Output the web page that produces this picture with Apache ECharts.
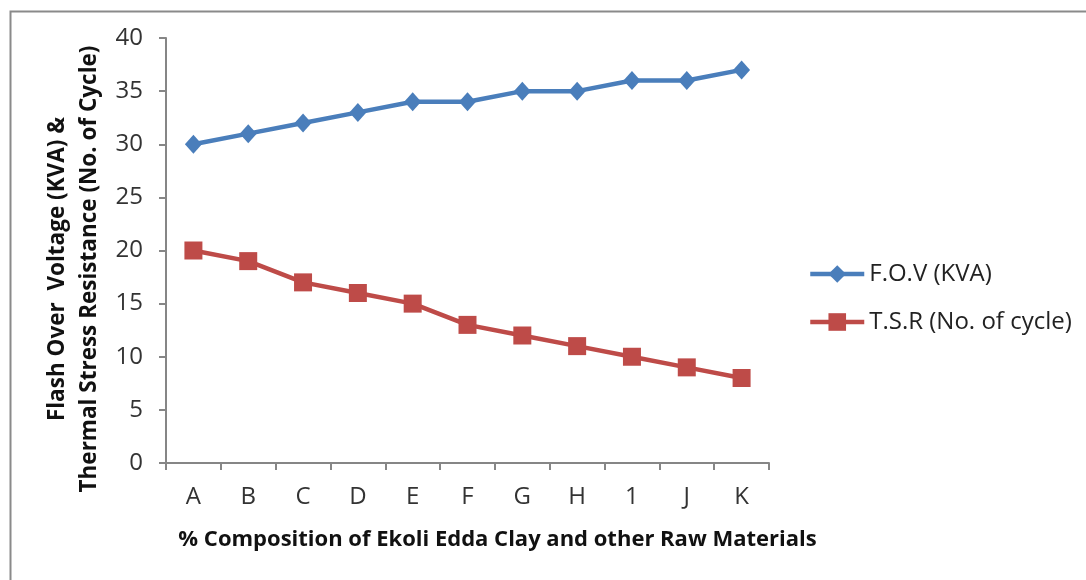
<!DOCTYPE html>
<html>
<head>
<meta charset="utf-8">
<script src="https://cdn.jsdelivr.net/npm/echarts@6/dist/echarts.min.js"></script>
<style>
html,body{margin:0;padding:0;background:#fff;}
#chart{width:1086px;height:580px;}
</style>
</head>
<body>
<div id="chart"></div>
<script>
const categories = ['A','B','C','D','E','F','G','H','1','J','K'];
const fovValues = [30,31,32,33,34,34,35,35,36,36,37];
const tsrValues = [20,19,17,16,15,13,12,11,10,9,8];
const yTicks = {min:0, max:40, interval:5};
const seriesNames = ['F.O.V (KVA)', 'T.S.R (No. of cycle)'];
const xTitle = '% Composition of Ekoli Edda Clay and other Raw Materials';
const yTitle = 'Flash Over  Voltage (KVA) &\nThermal Stress Resistance (No. of Cycle)';

const font = "'Open Sans', 'Liberation Sans', sans-serif";
const chart = echarts.init(document.getElementById('chart'), null, {renderer:'canvas'});
chart.setOption({
  animation:false,
  backgroundColor:'#fff',
  graphic:[{
    type:'rect', left:8, top:9, silent:true,
    shape:{x:0,y:0,width:1100,height:600},
    style:{fill:'none', stroke:'#8a8a8a', lineWidth:2}
  },{
    type:'text', x:74, y:269, rotation:Math.PI/2, silent:true,
    style:{text:yTitle, fontFamily:font, fontSize:22.5, fontWeight:'bold', fill:'#111',
           align:'center', verticalAlign:'middle', lineHeight:32}
  }],
  grid:{left:166, top:38, right:317, bottom:117, containLabel:false},
  legend:{
    orient:'vertical', left:803, top:257, itemGap:24,
    itemWidth:54, itemHeight:22,
    lineStyle:{width:4.5},
    textStyle:{fontFamily:font, fontSize:24, color:'#222'},
    data:seriesNames
  },
  xAxis:{
    type:'category', data:categories, boundaryGap:true,
    axisLine:{lineStyle:{color:'#868686', width:2}},
    axisTick:{show:true, length:7, lineStyle:{color:'#868686', width:2}},
    axisLabel:{fontFamily:font, fontSize:24, color:'#333', margin:22},
    name:xTitle, nameLocation:'middle', nameGap:66,
    nameTextStyle:{fontFamily:font, fontSize:22, fontWeight:'bold', color:'#111', padding:[0,0,0,60]}
  },
  yAxis:{
    type:'value', min:yTicks.min, max:yTicks.max, interval:yTicks.interval,
    splitLine:{show:false},
    axisLine:{show:true, lineStyle:{color:'#868686', width:2}},
    axisTick:{show:true, length:7, lineStyle:{color:'#868686', width:2}},
    axisLabel:{fontFamily:font, fontSize:24, color:'#333', margin:23}
  },
  series:[
    {name:seriesNames[0], type:'line', data:fovValues,
     symbol:'diamond', symbolSize:[17,19],
     lineStyle:{color:'#4A7EBB', width:4.5},
     itemStyle:{color:'#4A7EBB'}},
    {name:seriesNames[1], type:'line', data:tsrValues,
     symbol:'rect', symbolSize:[18,18],
     lineStyle:{color:'#BE4B48', width:4.5},
     itemStyle:{color:'#BE4B48'}}
  ]
});
</script>
</body>
</html>
